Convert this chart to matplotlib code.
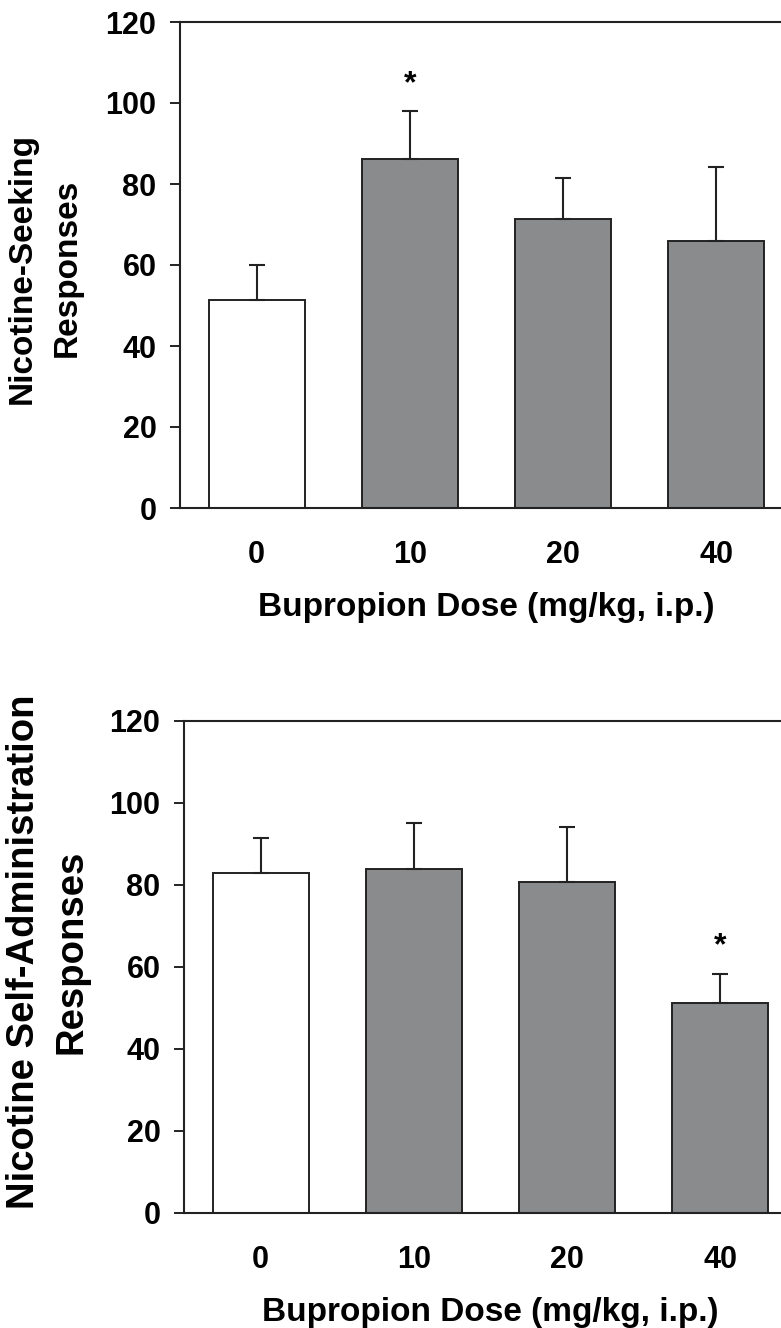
import numpy as np
import matplotlib
matplotlib.use("Agg")
import matplotlib.pyplot as plt

plt.rcParams['font.family'] = ['Liberation Sans', 'DejaVu Sans']
plt.rcParams['font.weight'] = 'bold'

doses = ['0', '10', '20', '40']
bar_colors = ['white', '#8a8b8d', '#8a8b8d', '#8a8b8d']

# top panel: nicotine-seeking
seek_mean = [51.3, 86.2, 71.4, 65.9]
seek_sem = [8.7, 11.8, 10.2, 18.4]
seek_star = [False, True, False, False]

# bottom panel: nicotine self-administration
sa_mean = [82.9, 83.8, 80.7, 51.1]
sa_sem = [8.6, 11.3, 13.5, 7.3]
sa_star = [False, False, False, True]

yticks = [0, 20, 40, 60, 80, 100, 120]

W, H = 781, 1328
fig = plt.figure(figsize=(W / 100, H / 100), dpi=100)


def panel(rect, means, sems, stars, ylabel_lines, label_y, label_x, label_fs):
    ax = fig.add_axes(rect)
    x = np.arange(len(doses))
    ax.bar(x, means, width=0.625, color=bar_colors, edgecolor='#222222',
           linewidth=1.4, zorder=2)
    ax.errorbar(x, means, yerr=[np.zeros(len(sems)), sems], fmt='none',
                ecolor='#222222', elinewidth=1.5, capsize=6, capthick=1.5,
                zorder=3)
    for xi, m, s, st in zip(x, means, sems, stars):
        if st:
            ax.text(xi, m + s + 6.6, '*', ha='center', va='center',
                    fontsize=23, fontweight='bold')
    ax.set_xlim(-0.5, 3.5)
    ax.set_ylim(0, 120)
    ax.set_yticks(yticks)
    ax.set_yticklabels([str(t) for t in yticks])
    ax.set_xticks(x)
    ax.set_xticklabels(doses)
    ax.tick_params(axis='y', direction='out', length=7, width=1.4,
                   labelsize=22, pad=10, color='#222222')
    ax.tick_params(axis='x', length=0, labelsize=22, pad=23)
    for sp in ax.spines.values():
        sp.set_linewidth(1.5)
        sp.set_color('#222222')
    ax.set_xlabel('Bupropion Dose (mg/kg, i.p.)', fontsize=24,
                  fontweight='bold', labelpad=16)
    # two-line rotated y label
    fig.text(label_x[0] / W, 1 - label_y / H, ylabel_lines[0], rotation=90,
             ha='center', va='center', fontsize=label_fs, fontweight='bold')
    fig.text(label_x[1] / W, 1 - label_y / H, ylabel_lines[1], rotation=90,
             ha='center', va='center', fontsize=label_fs, fontweight='bold')
    return ax


ax1 = panel([180 / W, 1 - 508 / H, 613 / W, 486 / H],
            seek_mean, seek_sem, seek_star,
            ['Nicotine-Seeking', 'Responses'], 268, (22, 67), 24)
ax2 = panel([184 / W, 1 - 1213 / H, 613 / W, 492 / H],
            sa_mean, sa_sem, sa_star,
            ['Nicotine Self-Administration', 'Responses'], 952, (24, 72), 27.5)

fig.savefig('out.png', dpi=100)
